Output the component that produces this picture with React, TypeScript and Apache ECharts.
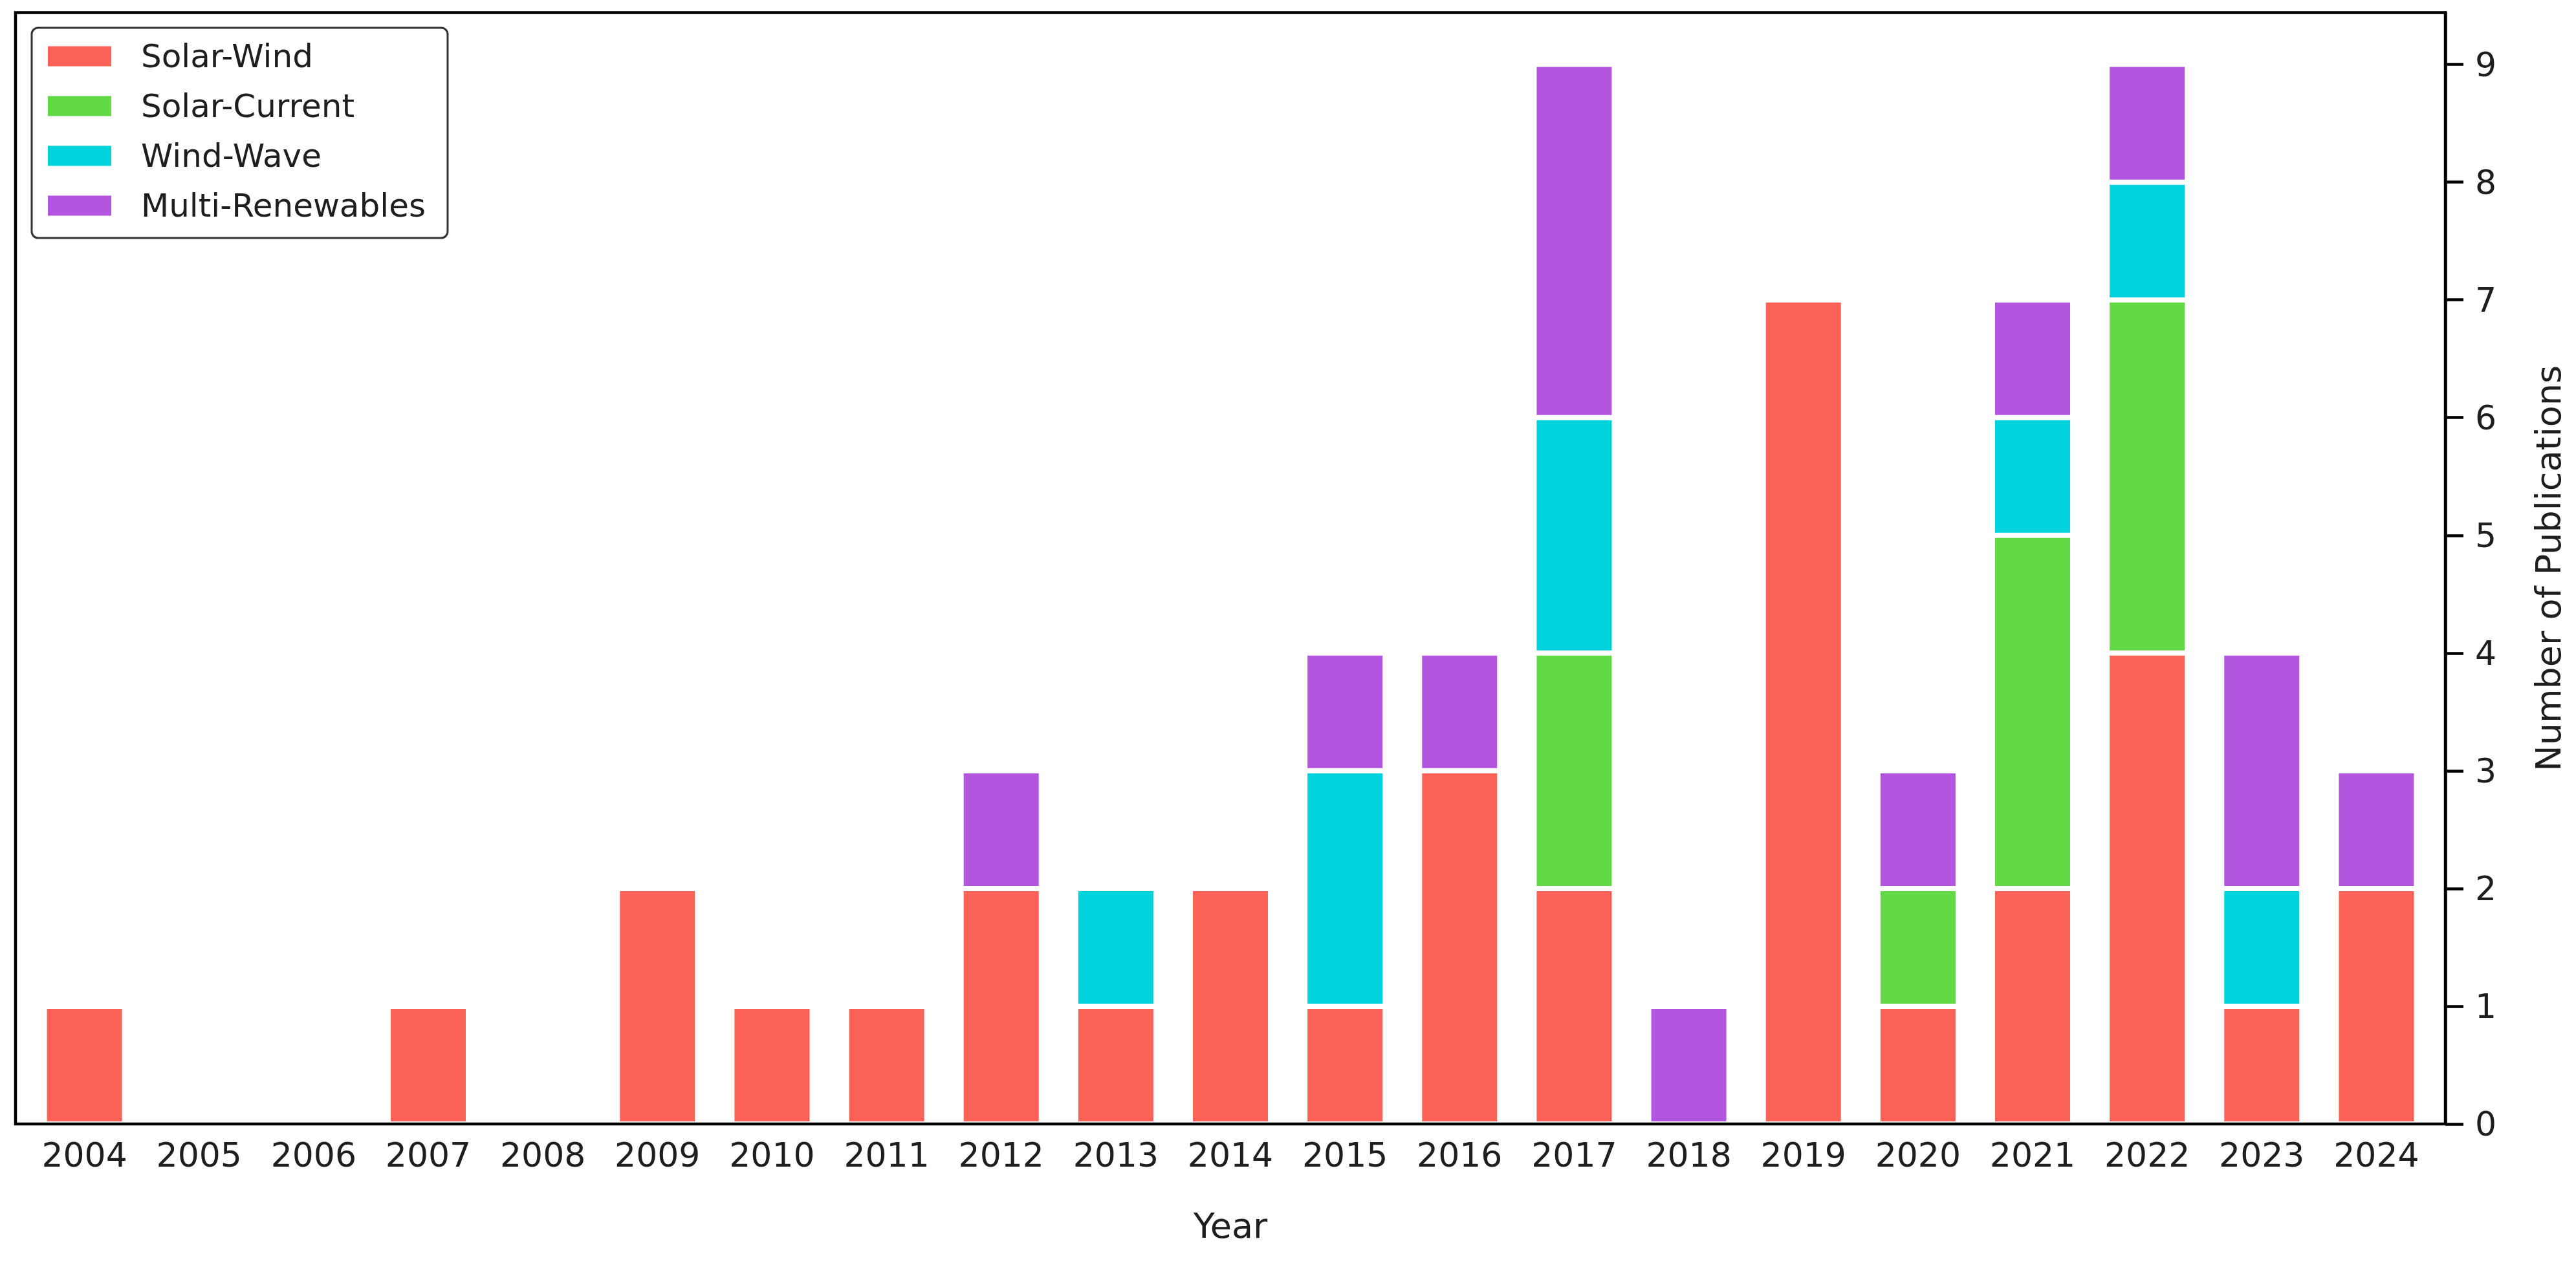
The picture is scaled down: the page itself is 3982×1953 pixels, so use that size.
import React, { useEffect, useRef } from "react";
import * as echarts from "echarts";

const years = ["2004","2005","2006","2007","2008","2009","2010","2011","2012","2013","2014","2015","2016","2017","2018","2019","2020","2021","2022","2023","2024"];
const solarWind =     [1,0,0,1,0,2,1,1,2,1,2,1,3,2,0,7,1,2,4,1,2];
const solarCurrent =  [0,0,0,0,0,0,0,0,0,0,0,0,0,2,0,0,1,3,3,0,0];
const windWave =      [0,0,0,0,0,0,0,0,0,1,0,2,0,2,0,0,0,1,1,1,0];
const multiRenew =    [0,0,0,0,0,0,0,0,1,0,0,1,1,3,1,0,1,1,1,2,1];
const yTicks = [0,1,2,3,4,5,6,7,8,9];

const seriesDefs = [
  { name: "Solar-Wind", data: solarWind, color: "#FA6157" },
  { name: "Solar-Current", data: solarCurrent, color: "#62DA45" },
  { name: "Wind-Wave", data: windWave, color: "#00D3DC" },
  { name: "Multi-Renewables", data: multiRenew, color: "#B356DF" },
];

const FONT = "DejaVu Sans";
const TXT = "#1e1e1e";

// frame (axes box) and plotting band layout
const FRAME = { left: 24, right: 3780, top: 19.5, bottom: 1738 };
const PAD = 18; // extra space between frame and the outer category bands

export default function App() {
  const ref = useRef<HTMLDivElement>(null);
  useEffect(() => {
    if (!ref.current) return;
    const chart = echarts.init(ref.current, null, { renderer: "svg" });
    const W = 3982, H = 1953;
    chart.setOption({
      animation: false,
      backgroundColor: "#ffffff",
      grid: {
        left: FRAME.left + PAD, right: W - FRAME.right + PAD, top: FRAME.top, bottom: H - FRAME.bottom,
        show: false, containLabel: false,
      },
      graphic: [
        {
          type: "rect", z: 100, silent: true,
          shape: { x: FRAME.left, y: FRAME.top, width: FRAME.right - FRAME.left, height: FRAME.bottom - FRAME.top },
          style: { fill: "none", stroke: "#000000", lineWidth: 4.5 },
        },
      ],
      legend: {
        orient: "vertical", left: 49, top: 43,
        backgroundColor: "#ffffff", borderColor: "#333333", borderWidth: 3, borderRadius: 10,
        padding: [19, 34, 25, 25],
        itemWidth: 98, itemHeight: 31, itemGap: 27,
        icon: "rect",
        itemStyle: { borderWidth: 0 },
        textStyle: { fontFamily: FONT, fontSize: 50, color: TXT, lineHeight: 50, padding: [0, 0, 0, 41] },
        data: seriesDefs.map(s => s.name),
      },
      xAxis: {
        type: "category", data: years, boundaryGap: true,
        name: "Year", nameLocation: "middle", nameGap: 130,
        nameTextStyle: { fontFamily: FONT, fontSize: 54, color: TXT },
        axisLine: { show: false },
        axisTick: { show: false },
        splitLine: { show: false },
        axisLabel: { interval: 0, fontFamily: FONT, fontSize: 52, color: TXT, margin: 22 },
      },
      yAxis: {
        type: "value", position: "right", offset: PAD, min: 0, max: 9.44, z: 10,
        name: "Number of Publications", nameLocation: "middle", nameRotate: 90, nameGap: 132,
        nameTextStyle: { fontFamily: FONT, fontSize: 54, color: TXT },
        axisLine: { show: true, onZero: false, lineStyle: { color: "#000000", width: 4.5 } },
        axisTick: { show: true, customValues: yTicks, length: 28, inside: false, lineStyle: { color: "#000000", width: 4.5 } },
        splitLine: { show: false },
        axisLabel: {
          customValues: yTicks,
          fontFamily: FONT, fontSize: 52, color: TXT, margin: 46,
          formatter: (v: number) => String(v),
        },
      },
      series: seriesDefs.map(s => ({
        name: s.name,
        type: "bar",
        stack: "total",
        barWidth: "70%",
        itemStyle: { color: s.color, borderColor: "#ffffff", borderWidth: 4 },
        data: s.data,
      })),
    });
    return () => chart.dispose();
  }, []);
  return (
    <div
      ref={ref}
      style={{ position: "absolute", left: 0, top: 0, width: 3982, height: 1953, background: "#fff" }}
    />
  );
}
